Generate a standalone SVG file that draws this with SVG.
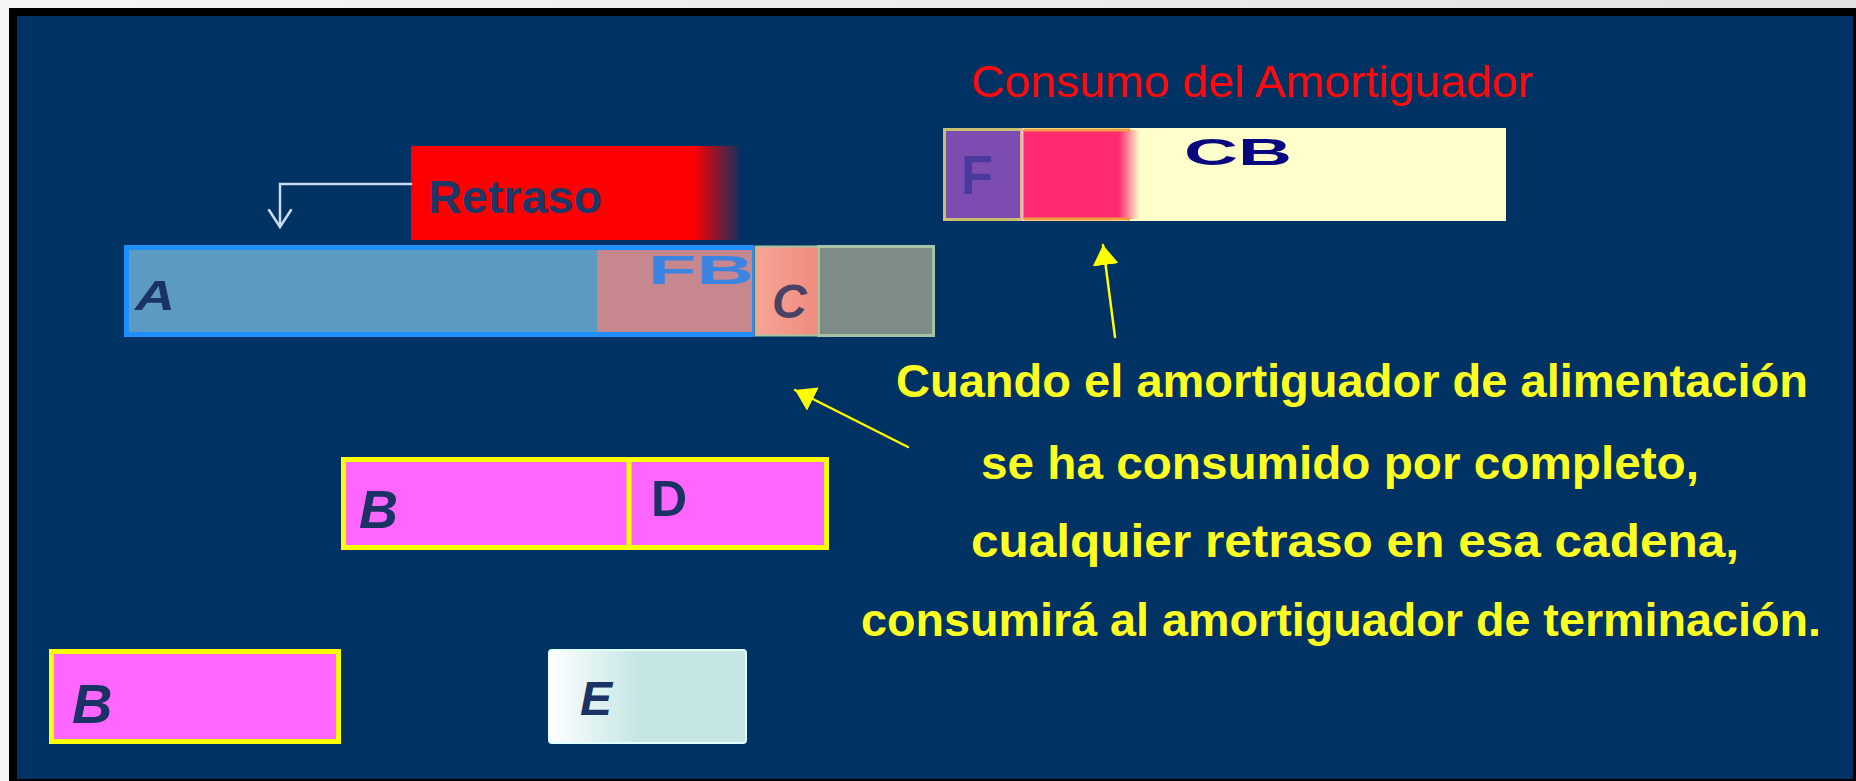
<svg xmlns="http://www.w3.org/2000/svg" width="1856" height="781" viewBox="0 0 1856 781">
<defs>
<style>
.lbl{font-family:"Liberation Sans","DejaVu Sans",sans-serif;font-weight:bold}
.navy{fill:#1a3264}
.it{font-style:italic}
.ytxt{font-family:"Liberation Sans","DejaVu Sans",sans-serif;font-weight:bold;fill:#ffff22;font-size:46px}
.conn{fill:none;stroke-linecap:round}
</style>
<linearGradient id="redfade" x1="0" y1="0" x2="1" y2="0">
<stop offset="0" stop-color="#ff0000"/>
<stop offset="0.86" stop-color="#ff0000"/>
<stop offset="1" stop-color="#ff0000" stop-opacity="0.1"/>
</linearGradient>
<linearGradient id="pinkfade" x1="0" y1="0" x2="1" y2="0">
<stop offset="0" stop-color="#ff2a70"/>
<stop offset="0.82" stop-color="#ff2a70"/>
<stop offset="1" stop-color="#ff2a70" stop-opacity="0"/>
</linearGradient>
<linearGradient id="cgrad" x1="0" y1="0" x2="1" y2="0">
<stop offset="0" stop-color="#f7a597"/>
<stop offset="1" stop-color="#ee8b7d"/>
</linearGradient>
<linearGradient id="egrad" x1="0" y1="0" x2="1" y2="0">
<stop offset="0" stop-color="#ffffff"/>
<stop offset="0.45" stop-color="#c6e6e6"/>
<stop offset="1" stop-color="#c6e6e6"/>
</linearGradient>
<linearGradient id="topgray" x1="0" y1="0" x2="1" y2="0">
<stop offset="0" stop-color="#f6f6f6"/>
<stop offset="1" stop-color="#e2e2e2"/>
</linearGradient>
<marker id="yhead" viewBox="0 0 20 26" refX="20" refY="13" markerWidth="20" markerHeight="26" markerUnits="userSpaceOnUse" orient="auto">
<path d="M0,0 L20,13 L0,26 z" fill="#ffff00"/>
</marker>
</defs>

<g id="frame">
<rect x="0" y="0" width="1856" height="781" fill="url(#topgray)"/>
<rect x="9" y="8" width="1847" height="773" fill="#000000"/>
<rect x="17" y="16" width="1836" height="763" fill="#003264"/>
</g>

<g id="title">
<text x="971" y="97" font-family="Liberation Sans,sans-serif" font-size="44" fill="#ff0a0a" textLength="562" lengthAdjust="spacingAndGlyphs">Consumo del Amortiguador</text>
</g>

<g id="retraso">
<rect x="411" y="146" width="328" height="94" fill="url(#redfade)"/>
<text class="lbl" x="428" y="213" font-size="46" fill="#1c3868" textLength="174" lengthAdjust="spacingAndGlyphs">Retraso</text>
</g>

<g id="cb">
<rect x="943" y="128" width="563" height="93" fill="#ffffcc"/>
<rect x="1022" y="130" width="118" height="89" fill="url(#pinkfade)"/>
<line x1="1024" y1="130" x2="1130" y2="130" stroke="#f0a040" stroke-width="3"/>
<line x1="1024" y1="219" x2="1130" y2="219" stroke="#f0a040" stroke-width="3"/>
<rect x="944.5" y="129.5" width="77" height="90" fill="#7d4cb0" stroke="#c8c070" stroke-width="3"/>
<line x1="1022.5" y1="129" x2="1022.5" y2="221" stroke="#ffb0e0" stroke-width="2"/>
<text class="lbl" x="961" y="194" font-size="56" fill="#4a3a9e" textLength="32" lengthAdjust="spacingAndGlyphs">F</text>
<text class="lbl" x="1184" y="165" font-size="36" fill="#08087e" textLength="108" lengthAdjust="spacingAndGlyphs">CB</text>
</g>

<g id="taskA">
<rect x="126.5" y="247.5" width="625" height="87" fill="#5b9ac1" stroke="#1f8fff" stroke-width="5"/>
<text class="lbl it navy" x="135" y="310" font-size="42" textLength="40" lengthAdjust="spacingAndGlyphs">A</text>
</g>

<g id="fb">
<rect x="597" y="250" width="155" height="82" fill="#c7878f"/>
<text class="lbl" x="648" y="284" font-size="40" fill="#3c84e2" textLength="106" lengthAdjust="spacingAndGlyphs">FB</text>
</g>

<g id="taskC">
<rect x="818.5" y="246.5" width="115" height="89" fill="#7e8c88" stroke="#a8c2a4" stroke-width="3"/>
<rect x="755.5" y="246.5" width="63" height="89" fill="url(#cgrad)" stroke="#a8c2a4" stroke-width="2"/>
<text class="lbl it" x="772" y="318" font-size="48" fill="#4a4264">C</text>
</g>

<g id="taskBD">
<rect x="343.5" y="459.5" width="483" height="88" fill="#ff66ff" stroke="#ffff00" stroke-width="5"/>
<line x1="629" y1="459" x2="629" y2="548" stroke="#ffff00" stroke-width="5"/>
<text class="lbl it navy" x="359" y="528" font-size="54">B</text>
<text class="lbl navy" x="651" y="516" font-size="50">D</text>
</g>

<g id="taskB2">
<rect x="51.5" y="651.5" width="287" height="90" fill="#ff66ff" stroke="#ffff00" stroke-width="5"/>
<text class="lbl it navy" x="72" y="723" font-size="56">B</text>
</g>

<g id="taskE">
<rect x="549" y="650" width="197" height="93" rx="3" fill="url(#egrad)" stroke="#e0ffff" stroke-width="2"/>
<text class="lbl it navy" x="580" y="715" font-size="48">E</text>
</g>

<g id="note">
<text class="ytxt" x="1352" y="397" text-anchor="middle" textLength="912" lengthAdjust="spacingAndGlyphs">Cuando el amortiguador de alimentación</text>
<text class="ytxt" x="1340" y="479" text-anchor="middle" textLength="718" lengthAdjust="spacingAndGlyphs">se ha consumido por completo,</text>
<text class="ytxt" x="1355" y="557" text-anchor="middle" textLength="768" lengthAdjust="spacingAndGlyphs">cualquier retraso en esa cadena,</text>
<text class="ytxt" x="1341" y="636" text-anchor="middle" textLength="960" lengthAdjust="spacingAndGlyphs">consumirá al amortiguador de terminación.</text>
</g>

<g id="connectors">
<path class="conn" d="M411,184 H280 V227" stroke="#c8dcf0" stroke-width="2.5"/>
<path class="conn" d="M269,210 L280,227 L291,210" stroke="#c8dcf0" stroke-width="2.5"/>
<line class="conn" x1="1115" y1="337" x2="1103" y2="245" stroke="#ffff00" stroke-width="2.5" marker-end="url(#yhead)"/>
<line class="conn" x1="908" y1="447" x2="795" y2="390" stroke="#ffff00" stroke-width="2.5" marker-end="url(#yhead)"/>
</g>
</svg>
